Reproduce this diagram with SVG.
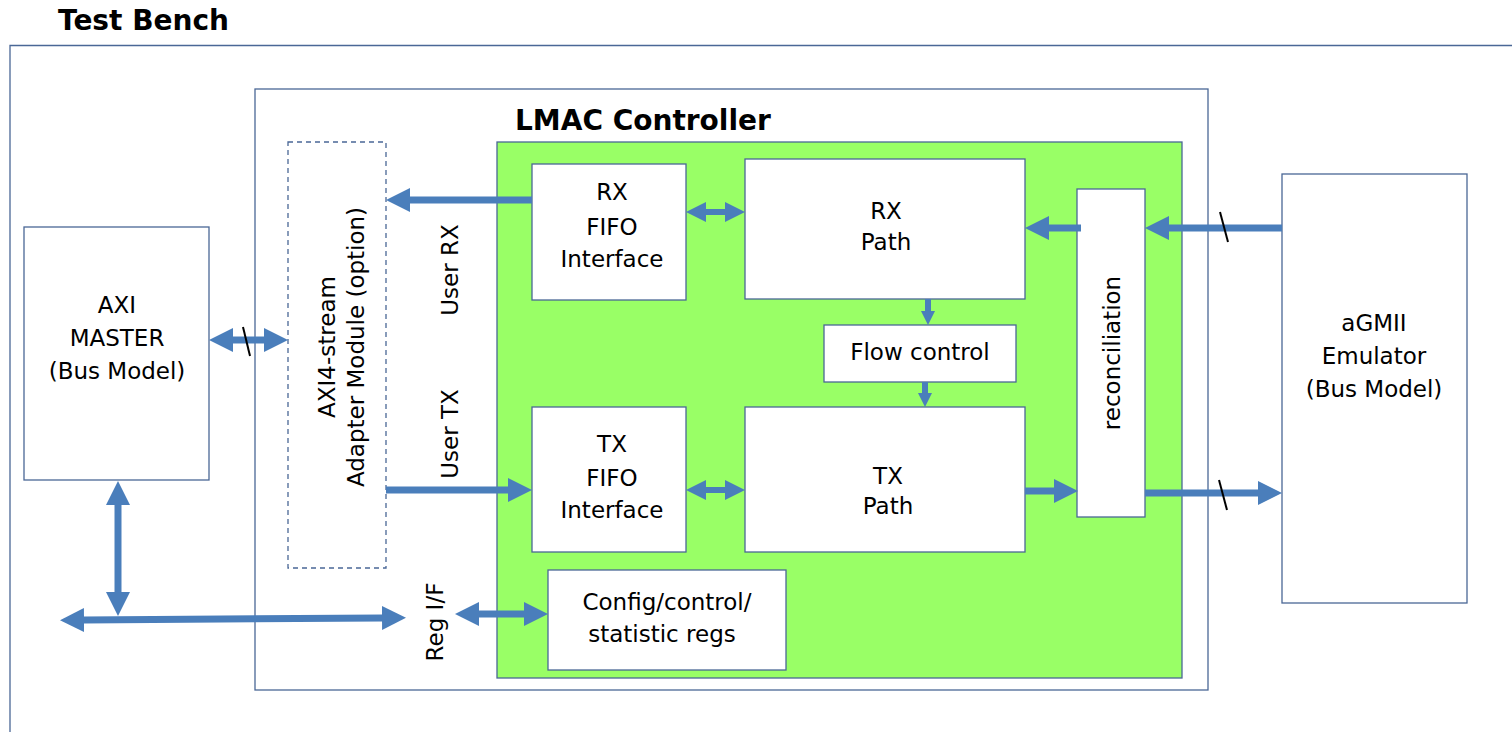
<svg xmlns="http://www.w3.org/2000/svg" width="1512" height="732" viewBox="0 0 1512 732">
<style>
text{font-family:"DejaVu Sans","Liberation Sans",sans-serif;fill:#000}
.t{font-size:23px;text-anchor:middle}
.h{font-size:28px;font-weight:bold}
.box{fill:#fff;stroke:#4a6796;stroke-width:1.3}
.arr{stroke:#4a7ebb;stroke-width:7;fill:none}
.arrs{stroke:#4a7ebb;stroke-width:6;fill:none}
.sl{stroke:#000;stroke-width:2}
</style>
<defs>
<marker id="ah" viewBox="0 0 24 24" refX="0" refY="12" markerWidth="24" markerHeight="24" markerUnits="userSpaceOnUse" orient="auto-start-reverse"><path d="M0,0 L24,12 L0,24 z" fill="#4a7ebb"/></marker>
<marker id="am" viewBox="0 0 22 22" refX="0" refY="11" markerWidth="20" markerHeight="22" markerUnits="userSpaceOnUse" orient="auto-start-reverse"><path d="M0,0 L22,11 L0,22 z" fill="#4a7ebb"/></marker>
<marker id="as" viewBox="0 0 16 16" refX="0" refY="8" markerWidth="14" markerHeight="16" markerUnits="userSpaceOnUse" orient="auto-start-reverse"><path d="M0,0 L16,8 L0,16 z" fill="#4a7ebb"/></marker>
</defs>
<rect width="1512" height="732" fill="#fff"/>
<g id="testbench">
<path d="M10,732 L10,45.5 L1512,45.5" fill="none" stroke="#4a6796" stroke-width="1.3"/>
<text class="h" x="58" y="30">Test Bench</text>
</g>
<g id="lmac">
<rect class="box" x="255" y="89" width="953" height="601"/>
<text class="h" x="515" y="130">LMAC Controller</text>
<rect x="497" y="142" width="685" height="536" fill="#99ff66" stroke="#4a6796" stroke-width="1.3"/>
</g>
<g id="axi-master">
<rect class="box" x="24" y="227" width="185" height="253"/>
<text class="t" x="117" y="313">AXI</text>
<text class="t" x="117" y="346">MASTER</text>
<text class="t" x="117" y="379">(Bus Model)</text>
</g>
<g id="adapter">
<rect x="288" y="142" width="98" height="426" fill="#fff" stroke="#4a6796" stroke-width="1.3" stroke-dasharray="5,4"/>
<text class="t" transform="translate(335,347) rotate(-90)">AXI4-stream</text>
<text class="t" transform="translate(364,347) rotate(-90)">Adapter Module (option)</text>
</g>
<g id="labels">
<text class="t" transform="translate(458,270) rotate(-90)">User RX</text>
<text class="t" transform="translate(458,434) rotate(-90)">User TX</text>
<text class="t" transform="translate(443,622) rotate(-90)">Reg I/F</text>
</g>
<g id="rx-fifo">
<rect class="box" x="532" y="164" width="154" height="136"/>
<text class="t" x="612" y="200">RX</text>
<text class="t" x="612" y="235">FIFO</text>
<text class="t" x="612" y="267">Interface</text>
</g>
<g id="rx-path">
<rect class="box" x="745" y="159" width="280" height="140"/>
<text class="t" x="886" y="219">RX</text>
<text class="t" x="886" y="250">Path</text>
</g>
<g id="flow-control">
<rect class="box" x="824" y="325" width="192" height="57"/>
<text class="t" x="920" y="360">Flow control</text>
</g>
<g id="tx-fifo">
<rect class="box" x="532" y="407" width="154" height="145"/>
<text class="t" x="612" y="452">TX</text>
<text class="t" x="612" y="486">FIFO</text>
<text class="t" x="612" y="518">Interface</text>
</g>
<g id="tx-path">
<rect class="box" x="745" y="407" width="280" height="145"/>
<text class="t" x="888" y="484">TX</text>
<text class="t" x="888" y="514">Path</text>
</g>
<g id="reconciliation">
<rect class="box" x="1077" y="189" width="68" height="328"/>
<text class="t" transform="translate(1120,353) rotate(-90)">reconciliation</text>
</g>
<g id="config">
<rect class="box" x="548" y="570" width="238" height="100"/>
<text class="t" x="667" y="610">Config/control/</text>
<text class="t" x="662" y="642">statistic regs</text>
</g>
<g id="agmii">
<rect class="box" x="1282" y="174" width="185" height="429"/>
<text class="t" x="1374" y="331">aGMII</text>
<text class="t" x="1374" y="364">Emulator</text>
<text class="t" x="1374" y="397">(Bus Model)</text>
</g>
<g id="connectors">
<line class="arr" x1="532" y1="200" x2="410" y2="200" marker-end="url(#ah)"/>
<line class="arr" x1="386" y1="490" x2="508" y2="490" marker-end="url(#ah)"/>
<line class="arr" x1="233" y1="340" x2="264" y2="340" marker-start="url(#ah)" marker-end="url(#ah)"/>
<line class="sl" x1="243" y1="327" x2="250" y2="356"/>
<line class="arrs" x1="706" y1="212" x2="725" y2="212" marker-start="url(#am)" marker-end="url(#am)"/>
<line class="arrs" x1="706" y1="490" x2="725" y2="490" marker-start="url(#am)" marker-end="url(#am)"/>
<line class="arrs" x1="928" y1="299" x2="928" y2="311" stroke-width="5" marker-end="url(#as)"/>
<line class="arrs" x1="925" y1="382" x2="925" y2="393" stroke-width="5" marker-end="url(#as)"/>
<line class="arr" x1="1081" y1="228" x2="1049" y2="228" marker-end="url(#ah)"/>
<line class="arr" x1="1282" y1="228" x2="1169" y2="228" marker-end="url(#ah)"/>
<line class="sl" x1="1220" y1="212" x2="1228" y2="242"/>
<line class="arr" x1="1025" y1="491" x2="1054" y2="491" marker-end="url(#ah)"/>
<line class="arr" x1="1145" y1="493" x2="1258" y2="493" marker-end="url(#ah)"/>
<line class="sl" x1="1219" y1="480" x2="1227" y2="510"/>
<line class="arr" x1="118" y1="505" x2="118" y2="592" marker-start="url(#ah)" marker-end="url(#ah)"/>
<line class="arr" x1="84" y1="620" x2="382" y2="618" marker-start="url(#ah)" marker-end="url(#ah)"/>
<line class="arr" x1="479" y1="614" x2="524" y2="614" marker-start="url(#ah)" marker-end="url(#ah)"/>
</g>
</svg>
